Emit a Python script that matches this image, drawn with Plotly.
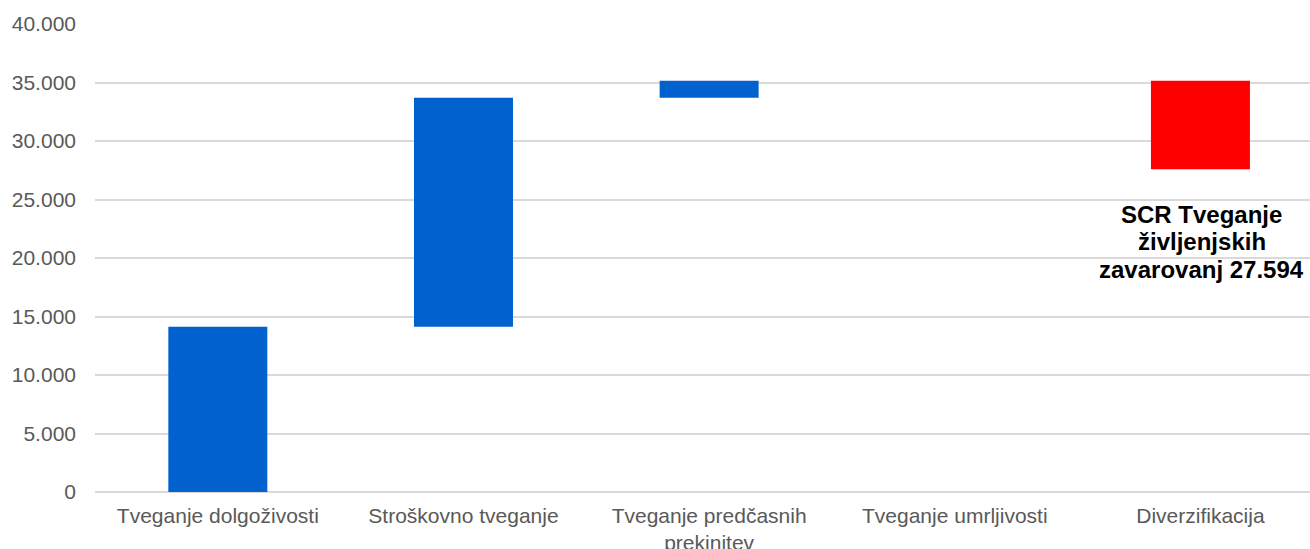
import plotly.graph_objects as go
import numpy as np

categories = ["Tveganje dolgoživosti", "Stroškovno tveganje", "Tveganje predčasnih<br>prekinitev",
              "Tveganje umrljivosti", "Diverzifikacija"]
values = [14130, 19570, 1450, 0, -7556]
y_ticks = [0, 5000, 10000, 15000, 20000, 25000, 30000, 35000, 40000]
label_lines = ["SCR Tveganje", "življenjskih", "zavarovanj"]

BLUE = "#0061CF"
RED = "#FF0000"

total = int(np.sum(values))
total_txt = f"{total:,}".replace(",", ".")

fig = go.Figure(go.Waterfall(
    x=categories,
    y=values,
    measure=["relative"] * len(values),
    increasing=dict(marker=dict(color=BLUE, line=dict(width=0))),
    decreasing=dict(marker=dict(color=RED, line=dict(width=0))),
    totals=dict(marker=dict(color=BLUE, line=dict(width=0))),
    connector=dict(visible=False),
    showlegend=False,
    hoverinfo="skip",
))

lines = label_lines[:2] + [f"{label_lines[2]} {total_txt}"]
shifts = [-45.6, -72.5, -100]
for txt, sh in zip(lines, shifts):
    fig.add_annotation(x=categories[-1], y=total, xref="x", yref="y", text=f"<b>{txt}</b>",
                       showarrow=False, yanchor="middle", xanchor="center", yshift=sh, xshift=1.5,
                       font=dict(family="Liberation Sans, Arial, sans-serif", size=24, color="#000000"))

fig.update_layout(
    width=1310, height=549,
    margin=dict(l=94.5, r=0, t=24.3, b=56.7, autoexpand=False),
    paper_bgcolor="white", plot_bgcolor="white",
    separators=",.",
    waterfallgap=0.597,
    font=dict(family="Liberation Sans, Arial, sans-serif", size=21, color="#595959"),
    xaxis=dict(range=[-0.5, 4.446], showgrid=False, showline=False, ticks="", tickangle=0,
               automargin=False,
               tickfont=dict(size=21, color="#595959"), ticklabelstandoff=9),
    yaxis=dict(range=[0, 40000], tickvals=y_ticks, tickformat=",d", showgrid=True,
               automargin=False,
               gridcolor="#D9D9D9", gridwidth=1.5, zeroline=True, zerolinecolor="#D9D9D9",
               zerolinewidth=1.5, showline=False, ticks="", ticklabelstandoff=18,
               tickfont=dict(size=21, color="#595959")),
)

fig.write_html("out.html", config={"displayModeBar": False},
               post_script="document.body.style.margin='0';")
